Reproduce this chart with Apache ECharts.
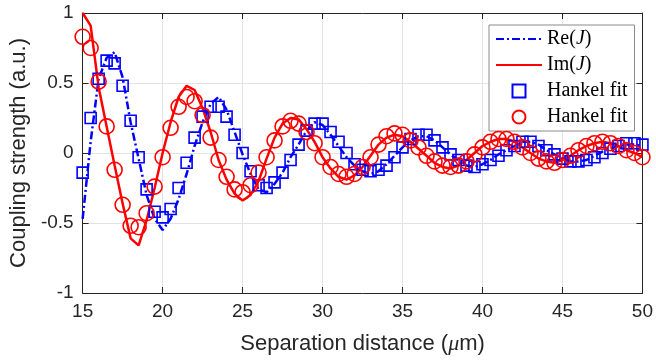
<!DOCTYPE html>
<html><head><meta charset="utf-8">
<script src="https://cdn.jsdelivr.net/npm/echarts@6/dist/echarts.min.js"></script>
<style>html,body{margin:0;padding:0;background:#fff}#c{width:656px;height:364px}</style>
</head><body><div id="c"></div>
<script>
const distance = [15,15.5,16,16.5,17,17.5,18,18.5,19,19.5,20,20.5,21,21.5,22,22.5,23,23.5,24,24.5,25,25.5,26,26.5,27,27.5,28,28.5,29,29.5,30,30.5,31,31.5,32,32.5,33,33.5,34,34.5,35,35.5,36,36.5,37,37.5,38,38.5,39,39.5,40,40.5,41,41.5,42,42.5,43,43.5,44,44.5,45,45.5,46,46.5,47,47.5,48,48.5,49,49.5,50];
const reJ = [-0.47,0.08,0.53,0.68,0.72,0.54,0.22,-0.04,-0.30,-0.47,-0.55,-0.47,-0.33,-0.15,0.05,0.22,0.35,0.40,0.31,0.15,-0.01,-0.15,-0.26,-0.28,-0.22,-0.14,-0.03,0.06,0.16,0.22,0.20,0.13,0.05,-0.03,-0.09,-0.13,-0.15,-0.13,-0.08,-0.02,0.04,0.09,0.12,0.12,0.09,0.04,-0.01,-0.05,-0.09,-0.10,-0.08,-0.05,-0.01,0.02,0.05,0.08,0.08,0.06,0.02,-0.01,-0.04,-0.06,-0.06,-0.05,-0.02,0.01,0.03,0.05,0.06,0.06,0.05];
const imJ = [1.00,0.91,0.47,0.19,-0.09,-0.36,-0.61,-0.66,-0.48,-0.25,0.00,0.22,0.40,0.48,0.45,0.32,0.15,-0.05,-0.19,-0.29,-0.34,-0.30,-0.20,-0.04,0.11,0.21,0.25,0.24,0.17,0.08,-0.03,-0.11,-0.17,-0.19,-0.16,-0.10,-0.02,0.06,0.11,0.13,0.12,0.08,0.03,-0.02,-0.07,-0.10,-0.11,-0.09,-0.05,0.00,0.05,0.08,0.10,0.10,0.08,0.04,0.00,-0.04,-0.06,-0.07,-0.05,-0.02,0.02,0.05,0.07,0.08,0.07,0.05,0.02,0.00,-0.03];
const hankelRe = [-0.14,0.25,0.53,0.66,0.64,0.48,0.23,-0.03,-0.26,-0.42,-0.46,-0.40,-0.25,-0.07,0.11,0.26,0.33,0.33,0.26,0.13,0.00,-0.13,-0.23,-0.25,-0.21,-0.14,-0.05,0.06,0.16,0.21,0.21,0.15,0.08,0.00,-0.08,-0.12,-0.13,-0.12,-0.09,-0.03,0.04,0.10,0.13,0.13,0.09,0.04,-0.01,-0.05,-0.09,-0.10,-0.08,-0.05,-0.02,0.02,0.05,0.08,0.08,0.05,0.02,-0.01,-0.04,-0.06,-0.06,-0.05,-0.03,0.00,0.03,0.05,0.07,0.07,0.06];
const hankelIm = [0.83,0.75,0.51,0.19,-0.12,-0.37,-0.52,-0.53,-0.43,-0.24,-0.03,0.18,0.33,0.40,0.37,0.27,0.11,-0.05,-0.17,-0.26,-0.28,-0.23,-0.14,-0.03,0.09,0.19,0.23,0.21,0.15,0.07,-0.03,-0.10,-0.15,-0.17,-0.15,-0.10,-0.03,0.06,0.12,0.14,0.13,0.09,0.04,-0.02,-0.06,-0.09,-0.10,-0.09,-0.06,-0.01,0.04,0.08,0.10,0.10,0.08,0.04,0.00,-0.04,-0.06,-0.07,-0.05,-0.02,0.02,0.05,0.07,0.08,0.07,0.05,0.02,0.00,-0.03];
const legendLabels = {
  re: '{r|Re(}{i|J}{r|)}',
  im: '{r|Im(}{i|J}{r|)}',
  fitRe: '{r|Hankel fit}',
  fitIm: '{r|Hankel fit}'
};
const xRange = {min: 15, max: 50, interval: 5};
const yRange = {min: -1, max: 1, interval: 0.5};

const pair = (ys) => distance.map((x, i) => [x, ys[i]]);
const textColor = '#262626';
const sans = '"Liberation Sans", Arial, sans-serif';
const serif = '"Liberation Serif", "Times New Roman", serif';

const chart = echarts.init(document.getElementById('c'), null, {renderer: 'canvas'});
const baseAxis = {
  type: 'value',
  axisLine: {show: true, onZero: false, lineStyle: {color: textColor, width: 1}},
  axisTick: {show: true, inside: true, length: 6, lineStyle: {color: textColor, width: 1}},
};
const hiddenSymbol = {color: 'rgba(0,0,0,0)', borderColor: 'rgba(0,0,0,0)', borderWidth: 0, opacity: 0};
chart.setOption({
  animation: false,
  backgroundColor: '#ffffff',
  grid: {left: 82, right: 8, top: 13, bottom: 71, containLabel: false},
  xAxis: [
    Object.assign({}, baseAxis, {
      position: 'bottom', min: xRange.min, max: xRange.max, interval: xRange.interval,
      axisLabel: {color: textColor, fontFamily: sans, fontSize: 19, margin: 9},
      splitLine: {show: true, lineStyle: {color: '#e3e3e3', width: 1}},
      name: '{n|Separation distance (}{m|μ}{n|m)}', nameLocation: 'middle', nameGap: 40,
      nameTextStyle: {rich: {n: {fontFamily: sans, fontSize: 22, color: textColor}, m: {fontFamily: serif, fontStyle: 'italic', fontSize: 22, color: textColor}}}
    }),
    Object.assign({}, baseAxis, {
      position: 'top', min: xRange.min, max: xRange.max, interval: xRange.interval,
      axisLabel: {show: false}, splitLine: {show: false}
    })
  ],
  yAxis: [
    Object.assign({}, baseAxis, {
      position: 'left', min: yRange.min, max: yRange.max, interval: yRange.interval,
      axisLabel: {color: textColor, fontFamily: sans, fontSize: 19, margin: 9},
      splitLine: {show: true, lineStyle: {color: '#e3e3e3', width: 1}},
      name: 'Coupling strength (a.u.)', nameLocation: 'middle', nameGap: 50,
      nameTextStyle: {fontFamily: sans, fontSize: 22, color: textColor}
    }),
    Object.assign({}, baseAxis, {
      position: 'right', min: yRange.min, max: yRange.max, interval: yRange.interval,
      axisLabel: {show: false}, splitLine: {show: false}
    })
  ],
  legend: {
    orient: 'vertical', left: 489, top: 25,
    padding: [3, 7, 3, 6], itemGap: 4, itemWidth: 46, itemHeight: 13, itemTextGap: 4,
    backgroundColor: '#ffffff', borderColor: '#8a8a8a', borderWidth: 1, borderRadius: 0,
    data: [
      {name: 're', itemStyle: hiddenSymbol},
      {name: 'im', itemStyle: hiddenSymbol},
      {name: 'fitRe', icon: 'path://M0,0L10,0L10,10L0,10Z'},
      {name: 'fitIm', icon: 'circle'}
    ],
    formatter: (name) => legendLabels[name],
    textStyle: {
      color: '#000', lineHeight: 22,
      rich: {
        r: {fontFamily: serif, fontSize: 20, color: '#000'},
        i: {fontFamily: serif, fontStyle: 'italic', fontSize: 20, color: '#000'}
      }
    }
  },
  series: [
    {name: 're', type: 'line', data: pair(reJ), symbol: 'none', z: 3,
     lineStyle: {color: '#0000ff', width: 2.5, type: [8, 3, 2, 3]}, itemStyle: {color: '#0000ff'}},
    {name: 'im', type: 'line', data: pair(imJ), symbol: 'none', z: 3,
     lineStyle: {color: '#ff0000', width: 2.5, type: 'solid'}, itemStyle: {color: '#ff0000'}},
    {name: 'fitRe', type: 'scatter', data: pair(hankelRe), symbol: 'rect', symbolSize: 11, z: 4,
     itemStyle: {color: 'rgba(255,255,255,0)', borderColor: '#0000ff', borderWidth: 1.6, opacity: 1}},
    {name: 'fitIm', type: 'scatter', data: pair(hankelIm), symbol: 'circle', symbolSize: 15, z: 5,
     itemStyle: {color: 'rgba(255,255,255,0)', borderColor: '#ff0000', borderWidth: 1.6, opacity: 1}}
  ]
});
</script></body></html>
